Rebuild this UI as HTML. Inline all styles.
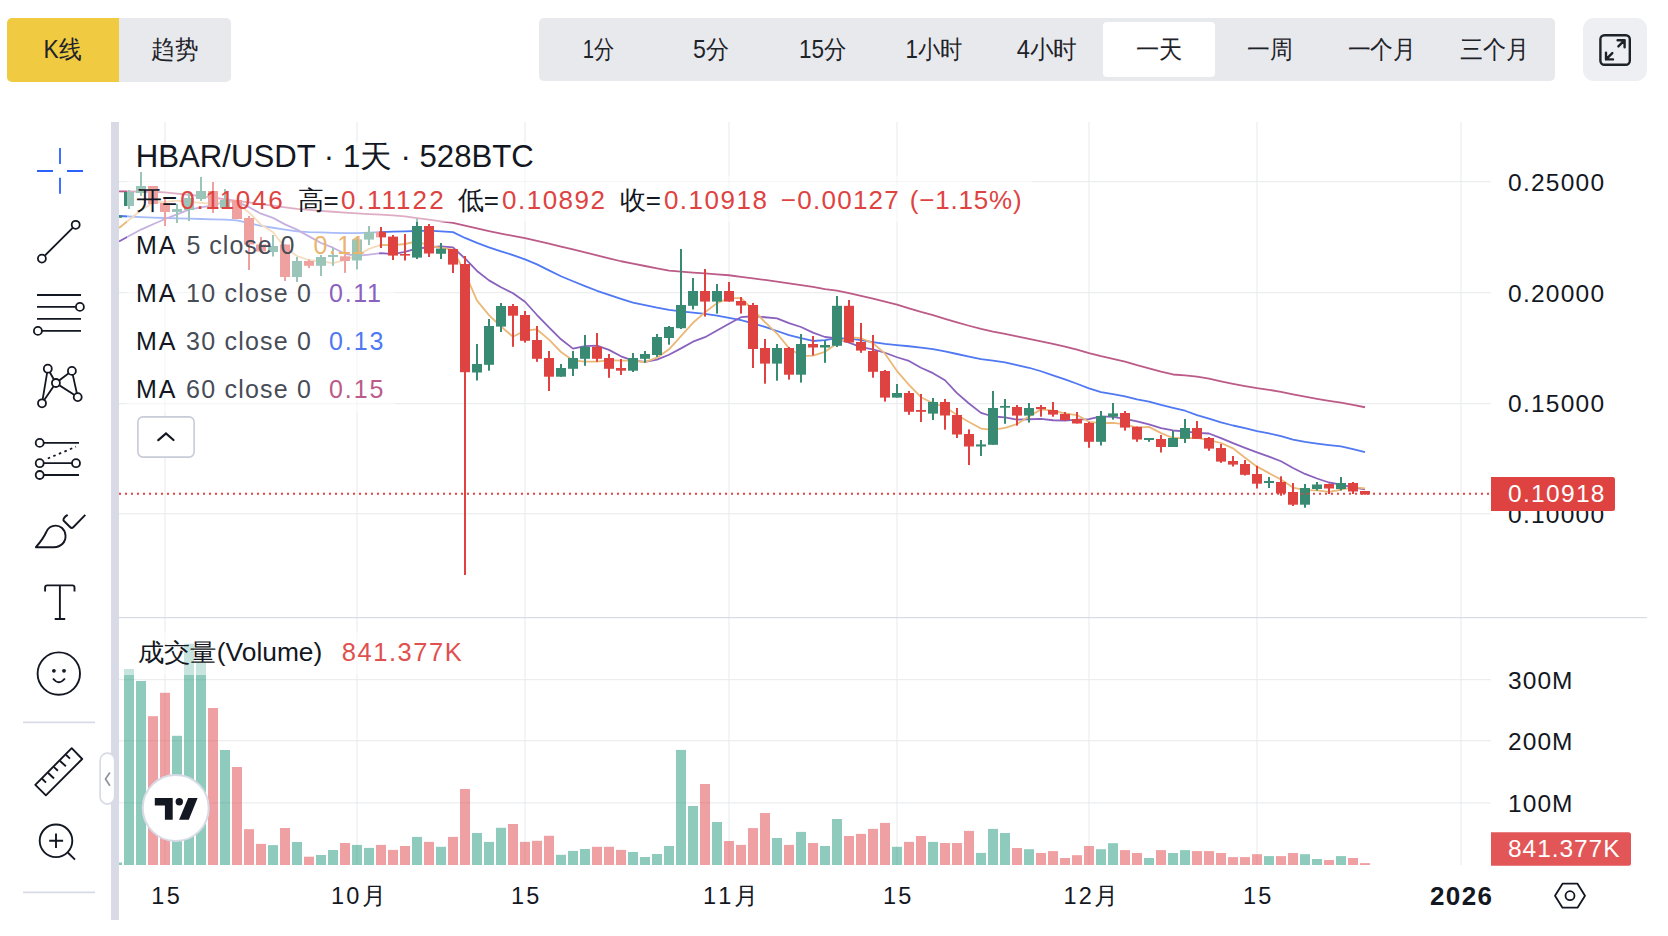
<!DOCTYPE html>
<html><head><meta charset="utf-8"><title>HBAR/USDT</title>
<style>
html,body{margin:0;padding:0;width:1668px;height:936px;overflow:hidden;background:#fff;}
body{font-family:"Liberation Sans",sans-serif;color:#1E2329;position:relative;}
.a{position:absolute;}
.btn{position:absolute;display:flex;align-items:center;justify-content:center;font-size:25px;color:#1E2329;}
svg text{font-family:"Liberation Sans",sans-serif;}
</style></head><body>
<!-- header -->
<div class="a" style="left:7px;top:18px;width:112px;height:64px;background:#F0CA41;border-radius:5px 0 0 5px;"></div>
<div class="a" style="left:119px;top:18px;width:112px;height:64px;background:#E8E9ED;border-radius:0 5px 5px 0;"></div>
<div class="a" style="left:539px;top:18px;width:1016px;height:63px;background:#E8E9ED;border-radius:5px;"></div>
<div class="a" style="left:1103px;top:22px;width:112px;height:55px;background:#fff;border-radius:4px;"></div>
<div class="a" style="left:1583px;top:18px;width:64px;height:63px;background:#EEEFF2;border-radius:11px;"></div>

<svg class="a" style="left:0;top:0" width="1668" height="936" viewBox="0 0 1668 936">
<defs><clipPath id="pc"><rect x="119" y="122" width="1372" height="495"/></clipPath><clipPath id="vc"><rect x="119" y="618" width="1372" height="247"/></clipPath></defs>
<!-- header text -->
<g font-size="25" fill="#1E2329" text-anchor="middle" lengthAdjust="spacingAndGlyphs">
<text x="62.6" y="57.7" textLength="38" lengthAdjust="spacingAndGlyphs">K线</text>
<text x="174.5" y="57.7" textLength="47" lengthAdjust="spacingAndGlyphs">趋势</text>
<text x="598.4" y="57.6" textLength="31.5" lengthAdjust="spacingAndGlyphs">1分</text>
<text x="711.1" y="57.6" textLength="36" lengthAdjust="spacingAndGlyphs">5分</text>
<text x="822.7" y="57.6" textLength="47.5" lengthAdjust="spacingAndGlyphs">15分</text>
<text x="934.1" y="57.6" textLength="57" lengthAdjust="spacingAndGlyphs">1小时</text>
<text x="1046.9" y="57.6" textLength="60.5" lengthAdjust="spacingAndGlyphs">4小时</text>
<text x="1158.9" y="57.6" textLength="46.5" lengthAdjust="spacingAndGlyphs">一天</text>
<text x="1270.2" y="57.6" textLength="45.7" lengthAdjust="spacingAndGlyphs">一周</text>
<text x="1381.9" y="57.6" textLength="68.4" lengthAdjust="spacingAndGlyphs">一个月</text>
<text x="1494.2" y="57.6" textLength="69" lengthAdjust="spacingAndGlyphs">三个月</text>
</g>
<!-- fullscreen icon -->
<g fill="none" stroke="#1E2329" stroke-width="2.4" stroke-linecap="round" stroke-linejoin="round">
<rect x="1600.4" y="35.2" width="29.4" height="29.6" rx="4"/>
<path d="M1617.6 40.2 L1624.6 40.2 L1624.6 47.2 M1624.6 40.2 L1618.4 46.4"/>
<path d="M1606 52.6 L1606 59.4 L1613 59.4 M1606 59.4 L1612.3 53.1"/>
</g>
<!-- left toolbar -->
<g stroke="#2962FF" stroke-width="1.8" fill="none">
<path d="M60 148 V164 M60 177.7 V193.7 M37 171 H53 M67 171 H83"/>
</g>
<g stroke="#131722" stroke-width="1.8" fill="#fff">
<line x1="45" y1="255.5" x2="72.9" y2="227.7"/>
<circle cx="75.7" cy="224.8" r="4"/><circle cx="41.9" cy="258.6" r="4"/>
<path d="M37 295 H81 M37 306.9 H75.8 M37 318.9 H81 M41.8 330.9 H81" fill="none"/>
<circle cx="79.9" cy="306.9" r="4"/><circle cx="37.9" cy="330.9" r="4"/>
<path d="M47.8 368.7 L42 403.3 L55.9 383 L71.9 370.9 L77.7 397.1 L55.9 383 L47.8 368.7" fill="none"/>
<circle cx="47.8" cy="368.7" r="4"/><circle cx="71.9" cy="370.9" r="4"/><circle cx="55.9" cy="383" r="4"/><circle cx="77.7" cy="397.1" r="4"/><circle cx="42" cy="403.3" r="4"/>
<path d="M43.8 442.9 H79 M43.8 463.2 H72 M43.8 475 H79" fill="none"/>
<path d="M47.8 458.5 L76 446.7" fill="none" stroke-dasharray="2.5 3.5"/>
<circle cx="39.7" cy="442.9" r="4"/><circle cx="39.7" cy="463.2" r="4"/><circle cx="76" cy="463.2" r="4"/><circle cx="39.7" cy="475" r="4"/>
</g>
<g stroke="#131722" stroke-width="1.9" fill="none" stroke-linejoin="round">
<path d="M35.9 547.2 L54 547.2 C61 547 66 542 65.5 535.5 C65 529 60 525.5 55.6 525.6 C51 525.7 48 528 46.3 532 C44 537 40 542.5 35.9 547.2 Z"/>
<path d="M67.7 514.9 C65 516.5 63 518 63.5 520.5 L70 527 C71 528 72.5 528 73.5 527 L85.3 514.9"/>
<path d="M45.1 591.5 V587.6 Q45.1 585.4 47.3 585.4 H72.3 Q74.5 585.4 74.5 587.6 V591.5 M59.9 585.4 V619 M54.7 619 H65.2"/>
<circle cx="58.8" cy="673.6" r="21.2"/>
<path d="M53 678.5 Q58.8 686 64.9 678.5"/>
<path d="M23 722.4 H95 M23 892.4 H95" stroke="#D8DBE6" stroke-width="1.6"/>
<path d="M35.3 784.8 L45.9 795.3 L82.2 759 L71.7 748.2 Z"/>
<path d="M41.9 778.5 L46 782.6 M48 772.7 L54 778.5 M53.7 766.9 L57.9 770.8 M59.8 760.8 L65.9 766.3 M65.9 754.7 L70 758.6"/>
<circle cx="56" cy="840.8" r="16.3"/>
<path d="M49.2 840.8 H63.1 M56 833.6 V848 M67.8 852.5 L75 859.6"/>
</g>
<circle cx="53.9" cy="670.8" r="1.9" fill="#131722"/><circle cx="64" cy="670.8" r="1.9" fill="#131722"/>

<!-- left divider bar -->
<rect x="111" y="122" width="8" height="798" fill="#D8DBE6"/>

<rect x="164.5" y="122" width="1" height="743" fill="#E7E9EC"/>
<rect x="356.5" y="122" width="1" height="743" fill="#E7E9EC"/>
<rect x="524.5" y="122" width="1" height="743" fill="#E7E9EC"/>
<rect x="728.5" y="122" width="1" height="743" fill="#E7E9EC"/>
<rect x="896.5" y="122" width="1" height="743" fill="#E7E9EC"/>
<rect x="1088.5" y="122" width="1" height="743" fill="#E7E9EC"/>
<rect x="1256.5" y="122" width="1" height="743" fill="#E7E9EC"/>
<rect x="1460.5" y="122" width="1" height="743" fill="#E7E9EC"/>
<rect x="119" y="181.2" width="1372" height="1" fill="#E7E9EC"/>
<rect x="119" y="292.2" width="1372" height="1" fill="#E7E9EC"/>
<rect x="119" y="403.2" width="1372" height="1" fill="#E7E9EC"/>
<rect x="119" y="513.3" width="1372" height="1" fill="#E7E9EC"/>
<rect x="119" y="679.2" width="1372" height="1" fill="#E7E9EC"/>
<rect x="119" y="740.3" width="1372" height="1" fill="#E7E9EC"/>
<rect x="119" y="802.4" width="1372" height="1" fill="#E7E9EC"/>
<rect x="119" y="617" width="1528" height="1.2" fill="#D8DBE6"/>
<g clip-path="url(#vc)"><rect x="112" y="862.5" width="10" height="2.5" fill="#1F9779" fill-opacity="0.5"/>
<rect x="124" y="669.0" width="10" height="196.0" fill="#1F9779" fill-opacity="0.5"/>
<rect x="136" y="681.0" width="10" height="184.0" fill="#1F9779" fill-opacity="0.5"/>
<rect x="148" y="716.2" width="10" height="148.8" fill="#DF4145" fill-opacity="0.5"/>
<rect x="160" y="692.8" width="10" height="172.2" fill="#DF4145" fill-opacity="0.5"/>
<rect x="172" y="735.8" width="10" height="129.2" fill="#1F9779" fill-opacity="0.5"/>
<rect x="184" y="643.7" width="10" height="221.3" fill="#1F9779" fill-opacity="0.5"/>
<rect x="196" y="662.8" width="10" height="202.2" fill="#1F9779" fill-opacity="0.5"/>
<rect x="208" y="708.0" width="10" height="157.0" fill="#DF4145" fill-opacity="0.5"/>
<rect x="220" y="750.0" width="10" height="115.0" fill="#1F9779" fill-opacity="0.5"/>
<rect x="232" y="767.0" width="10" height="98.0" fill="#DF4145" fill-opacity="0.5"/>
<rect x="244" y="829.2" width="10" height="35.8" fill="#DF4145" fill-opacity="0.5"/>
<rect x="256" y="843.9" width="10" height="21.1" fill="#DF4145" fill-opacity="0.5"/>
<rect x="268" y="845.1" width="10" height="19.9" fill="#1F9779" fill-opacity="0.5"/>
<rect x="280" y="828.0" width="10" height="37.0" fill="#DF4145" fill-opacity="0.5"/>
<rect x="292" y="842.0" width="10" height="23.0" fill="#1F9779" fill-opacity="0.5"/>
<rect x="304" y="856.7" width="10" height="8.3" fill="#DF4145" fill-opacity="0.5"/>
<rect x="316" y="855.0" width="10" height="10.0" fill="#1F9779" fill-opacity="0.5"/>
<rect x="328" y="850.0" width="10" height="15.0" fill="#1F9779" fill-opacity="0.5"/>
<rect x="340" y="843.0" width="10" height="22.0" fill="#DF4145" fill-opacity="0.5"/>
<rect x="352" y="844.9" width="10" height="20.1" fill="#1F9779" fill-opacity="0.5"/>
<rect x="364" y="847.9" width="10" height="17.1" fill="#1F9779" fill-opacity="0.5"/>
<rect x="376" y="844.9" width="10" height="20.1" fill="#DF4145" fill-opacity="0.5"/>
<rect x="388" y="849.9" width="10" height="15.1" fill="#DF4145" fill-opacity="0.5"/>
<rect x="400" y="846.0" width="10" height="19.0" fill="#DF4145" fill-opacity="0.5"/>
<rect x="412" y="836.9" width="10" height="28.1" fill="#1F9779" fill-opacity="0.5"/>
<rect x="424" y="841.9" width="10" height="23.1" fill="#DF4145" fill-opacity="0.5"/>
<rect x="436" y="846.8" width="10" height="18.2" fill="#1F9779" fill-opacity="0.5"/>
<rect x="448" y="836.9" width="10" height="28.1" fill="#DF4145" fill-opacity="0.5"/>
<rect x="460" y="789.0" width="10" height="76.0" fill="#DF4145" fill-opacity="0.5"/>
<rect x="472" y="833.0" width="10" height="32.0" fill="#1F9779" fill-opacity="0.5"/>
<rect x="484" y="841.9" width="10" height="23.1" fill="#1F9779" fill-opacity="0.5"/>
<rect x="496" y="827.8" width="10" height="37.2" fill="#1F9779" fill-opacity="0.5"/>
<rect x="508" y="824.0" width="10" height="41.0" fill="#DF4145" fill-opacity="0.5"/>
<rect x="520" y="841.9" width="10" height="23.1" fill="#DF4145" fill-opacity="0.5"/>
<rect x="532" y="840.8" width="10" height="24.2" fill="#DF4145" fill-opacity="0.5"/>
<rect x="544" y="835.8" width="10" height="29.2" fill="#DF4145" fill-opacity="0.5"/>
<rect x="556" y="854.8" width="10" height="10.2" fill="#1F9779" fill-opacity="0.5"/>
<rect x="568" y="850.9" width="10" height="14.1" fill="#1F9779" fill-opacity="0.5"/>
<rect x="580" y="849.0" width="10" height="16.0" fill="#1F9779" fill-opacity="0.5"/>
<rect x="592" y="846.8" width="10" height="18.2" fill="#DF4145" fill-opacity="0.5"/>
<rect x="604" y="846.8" width="10" height="18.2" fill="#DF4145" fill-opacity="0.5"/>
<rect x="616" y="849.9" width="10" height="15.1" fill="#DF4145" fill-opacity="0.5"/>
<rect x="628" y="852.0" width="10" height="13.0" fill="#1F9779" fill-opacity="0.5"/>
<rect x="640" y="857.0" width="10" height="8.0" fill="#1F9779" fill-opacity="0.5"/>
<rect x="652" y="854.0" width="10" height="11.0" fill="#1F9779" fill-opacity="0.5"/>
<rect x="664" y="846.0" width="10" height="19.0" fill="#1F9779" fill-opacity="0.5"/>
<rect x="676" y="749.9" width="10" height="115.1" fill="#1F9779" fill-opacity="0.5"/>
<rect x="688" y="806.0" width="10" height="59.0" fill="#1F9779" fill-opacity="0.5"/>
<rect x="700" y="784.0" width="10" height="81.0" fill="#DF4145" fill-opacity="0.5"/>
<rect x="712" y="822.0" width="10" height="43.0" fill="#1F9779" fill-opacity="0.5"/>
<rect x="724" y="841.0" width="10" height="24.0" fill="#DF4145" fill-opacity="0.5"/>
<rect x="736" y="844.9" width="10" height="20.1" fill="#DF4145" fill-opacity="0.5"/>
<rect x="748" y="828.1" width="10" height="36.9" fill="#DF4145" fill-opacity="0.5"/>
<rect x="760" y="813.0" width="10" height="52.0" fill="#DF4145" fill-opacity="0.5"/>
<rect x="772" y="838.0" width="10" height="27.0" fill="#1F9779" fill-opacity="0.5"/>
<rect x="784" y="844.9" width="10" height="20.1" fill="#DF4145" fill-opacity="0.5"/>
<rect x="796" y="831.9" width="10" height="33.1" fill="#1F9779" fill-opacity="0.5"/>
<rect x="808" y="843.0" width="10" height="22.0" fill="#DF4145" fill-opacity="0.5"/>
<rect x="820" y="846.0" width="10" height="19.0" fill="#1F9779" fill-opacity="0.5"/>
<rect x="832" y="819.0" width="10" height="46.0" fill="#1F9779" fill-opacity="0.5"/>
<rect x="844" y="836.0" width="10" height="29.0" fill="#DF4145" fill-opacity="0.5"/>
<rect x="856" y="833.9" width="10" height="31.1" fill="#DF4145" fill-opacity="0.5"/>
<rect x="868" y="828.9" width="10" height="36.1" fill="#DF4145" fill-opacity="0.5"/>
<rect x="880" y="822.9" width="10" height="42.1" fill="#DF4145" fill-opacity="0.5"/>
<rect x="892" y="846.8" width="10" height="18.2" fill="#1F9779" fill-opacity="0.5"/>
<rect x="904" y="841.9" width="10" height="23.1" fill="#DF4145" fill-opacity="0.5"/>
<rect x="916" y="836.0" width="10" height="29.0" fill="#DF4145" fill-opacity="0.5"/>
<rect x="928" y="841.9" width="10" height="23.1" fill="#1F9779" fill-opacity="0.5"/>
<rect x="940" y="843.0" width="10" height="22.0" fill="#DF4145" fill-opacity="0.5"/>
<rect x="952" y="843.0" width="10" height="22.0" fill="#DF4145" fill-opacity="0.5"/>
<rect x="964" y="830.9" width="10" height="34.1" fill="#DF4145" fill-opacity="0.5"/>
<rect x="976" y="852.9" width="10" height="12.1" fill="#1F9779" fill-opacity="0.5"/>
<rect x="988" y="828.9" width="10" height="36.1" fill="#1F9779" fill-opacity="0.5"/>
<rect x="1000" y="833.0" width="10" height="32.0" fill="#1F9779" fill-opacity="0.5"/>
<rect x="1012" y="848.0" width="10" height="17.0" fill="#DF4145" fill-opacity="0.5"/>
<rect x="1024" y="849.2" width="10" height="15.8" fill="#1F9779" fill-opacity="0.5"/>
<rect x="1036" y="853.0" width="10" height="12.0" fill="#DF4145" fill-opacity="0.5"/>
<rect x="1048" y="851.1" width="10" height="13.9" fill="#DF4145" fill-opacity="0.5"/>
<rect x="1060" y="858.0" width="10" height="7.0" fill="#DF4145" fill-opacity="0.5"/>
<rect x="1072" y="855.2" width="10" height="9.8" fill="#DF4145" fill-opacity="0.5"/>
<rect x="1084" y="846.0" width="10" height="19.0" fill="#DF4145" fill-opacity="0.5"/>
<rect x="1096" y="849.2" width="10" height="15.8" fill="#1F9779" fill-opacity="0.5"/>
<rect x="1108" y="843.2" width="10" height="21.8" fill="#1F9779" fill-opacity="0.5"/>
<rect x="1120" y="850.1" width="10" height="14.9" fill="#DF4145" fill-opacity="0.5"/>
<rect x="1132" y="853.0" width="10" height="12.0" fill="#DF4145" fill-opacity="0.5"/>
<rect x="1144" y="858.0" width="10" height="7.0" fill="#1F9779" fill-opacity="0.5"/>
<rect x="1156" y="850.1" width="10" height="14.9" fill="#DF4145" fill-opacity="0.5"/>
<rect x="1168" y="853.0" width="10" height="12.0" fill="#1F9779" fill-opacity="0.5"/>
<rect x="1180" y="850.1" width="10" height="14.9" fill="#1F9779" fill-opacity="0.5"/>
<rect x="1192" y="851.1" width="10" height="13.9" fill="#DF4145" fill-opacity="0.5"/>
<rect x="1204" y="851.1" width="10" height="13.9" fill="#DF4145" fill-opacity="0.5"/>
<rect x="1216" y="853.0" width="10" height="12.0" fill="#DF4145" fill-opacity="0.5"/>
<rect x="1228" y="857.1" width="10" height="7.9" fill="#DF4145" fill-opacity="0.5"/>
<rect x="1240" y="857.1" width="10" height="7.9" fill="#DF4145" fill-opacity="0.5"/>
<rect x="1252" y="854.2" width="10" height="10.8" fill="#DF4145" fill-opacity="0.5"/>
<rect x="1264" y="856.1" width="10" height="8.9" fill="#1F9779" fill-opacity="0.5"/>
<rect x="1276" y="856.1" width="10" height="8.9" fill="#DF4145" fill-opacity="0.5"/>
<rect x="1288" y="853.0" width="10" height="12.0" fill="#DF4145" fill-opacity="0.5"/>
<rect x="1300" y="854.2" width="10" height="10.8" fill="#1F9779" fill-opacity="0.5"/>
<rect x="1312" y="859.0" width="10" height="6.0" fill="#1F9779" fill-opacity="0.5"/>
<rect x="1324" y="860.0" width="10" height="5.0" fill="#DF4145" fill-opacity="0.5"/>
<rect x="1336" y="856.1" width="10" height="8.9" fill="#1F9779" fill-opacity="0.5"/>
<rect x="1348" y="858.0" width="10" height="7.0" fill="#DF4145" fill-opacity="0.5"/>
<rect x="1360" y="863.1" width="10" height="1.9" fill="#DF4145" fill-opacity="0.5"/></g>
<g clip-path="url(#pc)">
<polyline points="119,191.4 129,191.5 141,191.61 153,191.73 165,192.31 177,193.54 189,194.77 201,196.03 213,197.64 225,199.25 237,200.86 249,202.47 261,204.07 273,205.68 285,207.29 297,208.9 309,209.97 321,210.85 333,211.74 345,212.63 357,213.38 369,214.03 381,214.67 393,215.32 405,216.38 417,218.02 429,219.65 441,221.29 453,222.93 465,225.54 477,228.35 489,231.17 501,233.54 513,235.88 525,238.22 537,240.86 549,243.72 561,246.57 573,249.42 585,252.3 597,255.28 609,258.27 621,261.25 633,263.65 645,266.0 657,268.35 669,270.7 681,271.65 693,272.53 705,273.42 717,274.3 729,275.26 741,276.83 753,278.4 765,279.98 777,281.55 789,283.34 801,285.14 813,286.95 825,289.02 837,290.52 849,293.03 861,295.77 873,298.57 885,301.66 897,304.73 909,308.29 921,311.97 933,315.2 945,318.8 957,322.39 969,325.75 981,328.97 993,331.67 1005,333.82 1017,336.4 1029,338.76 1041,341.3 1053,343.96 1065,346.61 1077,349.68 1089,353.18 1101,356.15 1113,358.79 1125,361.65 1137,365.21 1149,368.28 1161,371.59 1173,374.48 1185,375.41 1197,376.66 1209,378.7 1221,381.29 1233,383.78 1245,386.01 1257,388.09 1269,389.83 1281,391.92 1293,394.37 1305,396.72 1317,398.81 1329,400.81 1341,402.68 1353,404.91 1365,407.25" fill="none" stroke="#BC5A88" stroke-width="1.8" stroke-linejoin="round"/>
<polyline points="119,216.0 129,216.52 141,217.14 153,217.68 165,218.02 177,218.36 189,218.69 201,219.02 213,219.3 225,219.57 237,220.28 249,223.16 261,225.95 273,227.75 285,229.55 297,231.35 309,232.07 321,232.43 333,232.79 345,233.15 357,233.03 369,232.58 381,232.12 393,231.67 405,231.28 417,231.0 429,230.72 441,231.37 453,232.1 465,237.94 477,242.89 489,247.36 501,251.36 513,255.08 525,259.37 537,264.37 549,270.32 561,276.22 573,281.22 585,286.12 597,290.78 609,294.92 621,298.89 633,302.63 645,305.19 657,307.73 669,309.77 681,311.37 693,312.57 705,313.92 717,315.64 729,317.96 741,320.23 753,323.34 765,326.94 777,331.01 789,335.05 801,338.23 813,340.99 825,340.09 837,338.15 849,338.7 861,340.18 873,342.05 885,343.95 897,345.09 909,346.26 921,347.72 933,349.18 945,351.47 957,354.0 969,356.59 981,359.04 993,360.71 1005,362.44 1017,365.06 1029,367.76 1041,371.24 1053,375.36 1065,379.31 1077,383.72 1089,388.4 1101,392.08 1113,394.23 1125,396.36 1137,399.41 1149,401.52 1161,404.95 1173,407.97 1185,410.74 1197,415.17 1209,418.71 1221,422.41 1233,425.5 1245,428.07 1257,431.1 1269,433.4 1281,436.13 1293,439.55 1305,441.97 1317,443.63 1329,445.03 1341,446.32 1353,449.1 1365,452.05" fill="none" stroke="#4F78F2" stroke-width="1.8" stroke-linejoin="round"/>
<polyline points="119,241.5 129,236.02 141,229.56 153,224.28 165,219.0 177,214.34 189,209.69 201,207.45 213,205.42 225,201.56 237,201.9 249,207.15 261,213.7 273,217.9 285,224.4 297,229.6 309,236.38 321,242.98 333,247.68 345,253.78 357,255.82 369,254.57 381,253.16 393,254.12 405,251.98 417,248.48 429,247.25 441,246.41 453,247.37 465,258.49 477,270.95 489,280.35 501,287.21 513,293.22 525,301.74 537,315.02 549,327.34 561,339.28 573,348.62 585,346.08 597,345.56 609,349.84 621,356.31 633,360.54 645,361.86 657,359.68 669,354.71 681,348.41 693,341.71 705,337.19 717,330.41 729,323.69 741,317.17 753,316.27 765,317.23 777,318.33 789,323.1 801,327.0 813,332.65 825,336.99 837,338.47 849,342.56 861,347.07 873,349.35 885,352.75 897,357.25 909,360.96 921,367.74 933,373.19 945,380.24 957,393.11 969,403.51 981,412.89 993,416.51 1005,417.35 1017,419.61 1029,419.23 1041,418.97 1053,420.23 1065,420.69 1077,419.59 1089,419.12 1101,416.28 1113,416.82 1125,418.98 1137,421.37 1149,424.37 1161,428.15 1173,430.49 1185,431.28 1197,432.81 1209,433.49 1221,438.05 1233,443.17 1245,447.89 1257,452.31 1269,456.61 1281,461.26 1293,467.93 1305,473.93 1317,478.5 1329,482.49 1341,484.63 1353,487.32 1365,489.29" fill="none" stroke="#8A62BE" stroke-width="1.8" stroke-linejoin="round"/>
<polyline points="119,228.0 129,219.94 141,210.26 153,202.69 165,201.92 177,200.6 189,201.8 201,202.8 213,203.6 225,201.2 237,203.2 249,212.5 261,224.6 273,232.2 285,247.6 297,256.0 309,260.26 321,261.36 333,263.16 345,259.96 357,255.64 369,248.88 381,244.96 393,245.08 405,244.0 417,241.32 429,245.62 441,247.86 453,249.66 465,272.98 477,300.58 489,315.08 501,326.56 513,336.78 525,330.5 537,329.46 549,339.6 561,352.0 573,360.46 585,361.66 597,361.66 609,360.08 621,360.62 633,360.62 645,362.06 657,357.7 669,349.34 681,336.2 693,322.8 705,312.32 717,303.12 729,298.04 741,298.14 753,309.74 765,322.14 777,333.54 789,348.16 801,355.86 813,355.56 825,351.84 837,343.4 849,336.96 861,338.28 873,343.14 885,353.66 897,371.1 909,384.96 921,397.2 933,403.24 945,406.82 957,415.12 969,422.06 981,428.58 993,429.78 1005,427.88 1017,424.1 1029,416.4 1041,409.36 1053,410.68 1065,413.5 1077,415.08 1089,421.84 1101,423.2 1113,422.96 1125,424.46 1137,427.66 1149,426.9 1161,433.1 1173,438.02 1185,438.1 1197,437.96 1209,440.08 1221,443.0 1233,448.32 1245,457.68 1257,466.66 1269,473.14 1281,479.52 1293,487.54 1305,490.18 1317,490.34 1329,491.84 1341,489.74 1353,487.1 1365,488.4" fill="none" stroke="#EBB878" stroke-width="1.8" stroke-linejoin="round"/>
<rect x="116" y="215.6" width="2" height="2.2" fill="#388A72"/>
<rect x="112" y="215.6" width="10" height="2.2" fill="#388A72"/>
<rect x="128" y="190.0" width="2" height="19.0" fill="#388A72"/>
<rect x="124" y="192.0" width="10" height="14.0" fill="#388A72"/>
<rect x="140" y="172.0" width="2" height="24.0" fill="#388A72"/>
<rect x="136" y="186.0" width="10" height="7.0" fill="#388A72"/>
<rect x="152" y="186.0" width="2" height="18.0" fill="#DE4341"/>
<rect x="148" y="186.0" width="10" height="18.0" fill="#DE4341"/>
<rect x="164" y="199.0" width="2" height="27.0" fill="#DE4341"/>
<rect x="160" y="203.0" width="10" height="9.0" fill="#DE4341"/>
<rect x="176" y="204.0" width="2" height="19.0" fill="#388A72"/>
<rect x="172" y="209.0" width="10" height="3.0" fill="#388A72"/>
<rect x="188" y="193.0" width="2" height="28.0" fill="#388A72"/>
<rect x="184" y="198.0" width="10" height="12.0" fill="#388A72"/>
<rect x="200" y="177.0" width="2" height="24.0" fill="#388A72"/>
<rect x="196" y="191.0" width="10" height="8.0" fill="#388A72"/>
<rect x="212" y="182.0" width="2" height="31.0" fill="#DE4341"/>
<rect x="208" y="191.0" width="10" height="17.0" fill="#DE4341"/>
<rect x="224" y="189.0" width="2" height="20.0" fill="#388A72"/>
<rect x="220" y="200.0" width="10" height="8.0" fill="#388A72"/>
<rect x="236" y="200.0" width="2" height="19.0" fill="#DE4341"/>
<rect x="232" y="200.0" width="10" height="19.0" fill="#DE4341"/>
<rect x="248" y="216.0" width="2" height="54.0" fill="#DE4341"/>
<rect x="244" y="218.0" width="10" height="26.5" fill="#DE4341"/>
<rect x="260" y="237.0" width="2" height="14.5" fill="#DE4341"/>
<rect x="256" y="244.5" width="10" height="7.0" fill="#DE4341"/>
<rect x="272" y="235.0" width="2" height="21.5" fill="#388A72"/>
<rect x="268" y="246.0" width="10" height="6.0" fill="#388A72"/>
<rect x="284" y="244.5" width="2" height="36.5" fill="#DE4341"/>
<rect x="280" y="244.5" width="10" height="32.5" fill="#DE4341"/>
<rect x="296" y="257.0" width="2" height="25.0" fill="#388A72"/>
<rect x="292" y="261.0" width="10" height="16.0" fill="#388A72"/>
<rect x="308" y="259.5" width="2" height="8.5" fill="#DE4341"/>
<rect x="304" y="261.0" width="10" height="4.8" fill="#DE4341"/>
<rect x="320" y="255.0" width="2" height="21.0" fill="#388A72"/>
<rect x="316" y="257.0" width="10" height="8.8" fill="#388A72"/>
<rect x="332" y="248.0" width="2" height="17.8" fill="#388A72"/>
<rect x="328" y="255.0" width="10" height="2.0" fill="#388A72"/>
<rect x="344" y="254.3" width="2" height="18.6" fill="#DE4341"/>
<rect x="340" y="256.3" width="10" height="4.7" fill="#DE4341"/>
<rect x="356" y="239.0" width="2" height="30.5" fill="#388A72"/>
<rect x="352" y="239.4" width="10" height="21.1" fill="#388A72"/>
<rect x="368" y="226.0" width="2" height="19.0" fill="#388A72"/>
<rect x="364" y="232.0" width="10" height="7.6" fill="#388A72"/>
<rect x="380" y="227.0" width="2" height="21.0" fill="#DE4341"/>
<rect x="376" y="231.7" width="10" height="5.7" fill="#DE4341"/>
<rect x="392" y="235.0" width="2" height="25.0" fill="#DE4341"/>
<rect x="388" y="236.6" width="10" height="19.0" fill="#DE4341"/>
<rect x="404" y="234.0" width="2" height="26.5" fill="#DE4341"/>
<rect x="400" y="254.0" width="10" height="1.6" fill="#DE4341"/>
<rect x="416" y="218.7" width="2" height="40.3" fill="#388A72"/>
<rect x="412" y="226.0" width="10" height="31.6" fill="#388A72"/>
<rect x="428" y="224.0" width="2" height="33.0" fill="#DE4341"/>
<rect x="424" y="226.0" width="10" height="27.5" fill="#DE4341"/>
<rect x="440" y="243.0" width="2" height="16.0" fill="#388A72"/>
<rect x="436" y="248.6" width="10" height="5.2" fill="#388A72"/>
<rect x="452" y="249.0" width="2" height="24.0" fill="#DE4341"/>
<rect x="448" y="249.0" width="10" height="15.6" fill="#DE4341"/>
<rect x="464" y="256.0" width="2" height="319.0" fill="#DE4341"/>
<rect x="460" y="264.0" width="10" height="108.2" fill="#DE4341"/>
<rect x="476" y="344.0" width="2" height="36.5" fill="#388A72"/>
<rect x="472" y="364.0" width="10" height="8.5" fill="#388A72"/>
<rect x="488" y="319.0" width="2" height="51.7" fill="#388A72"/>
<rect x="484" y="326.0" width="10" height="38.8" fill="#388A72"/>
<rect x="500" y="303.0" width="2" height="29.0" fill="#388A72"/>
<rect x="496" y="306.0" width="10" height="20.6" fill="#388A72"/>
<rect x="512" y="304.0" width="2" height="42.8" fill="#DE4341"/>
<rect x="508" y="306.0" width="10" height="9.7" fill="#DE4341"/>
<rect x="524" y="311.0" width="2" height="31.6" fill="#DE4341"/>
<rect x="520" y="315.0" width="10" height="25.8" fill="#DE4341"/>
<rect x="536" y="326.0" width="2" height="35.8" fill="#DE4341"/>
<rect x="532" y="340.0" width="10" height="18.8" fill="#DE4341"/>
<rect x="548" y="351.0" width="2" height="40.0" fill="#DE4341"/>
<rect x="544" y="358.0" width="10" height="18.7" fill="#DE4341"/>
<rect x="560" y="364.0" width="2" height="12.7" fill="#388A72"/>
<rect x="556" y="368.0" width="10" height="8.7" fill="#388A72"/>
<rect x="572" y="351.0" width="2" height="25.0" fill="#388A72"/>
<rect x="568" y="358.0" width="10" height="10.8" fill="#388A72"/>
<rect x="584" y="335.0" width="2" height="30.8" fill="#388A72"/>
<rect x="580" y="346.8" width="10" height="12.0" fill="#388A72"/>
<rect x="596" y="333.0" width="2" height="28.8" fill="#DE4341"/>
<rect x="592" y="346.8" width="10" height="12.0" fill="#DE4341"/>
<rect x="608" y="354.0" width="2" height="23.8" fill="#DE4341"/>
<rect x="604" y="358.0" width="10" height="10.8" fill="#DE4341"/>
<rect x="620" y="359.0" width="2" height="16.0" fill="#DE4341"/>
<rect x="616" y="368.0" width="10" height="2.7" fill="#DE4341"/>
<rect x="632" y="353.0" width="2" height="19.0" fill="#388A72"/>
<rect x="628" y="358.0" width="10" height="12.7" fill="#388A72"/>
<rect x="644" y="351.0" width="2" height="11.8" fill="#388A72"/>
<rect x="640" y="354.0" width="10" height="4.8" fill="#388A72"/>
<rect x="656" y="334.0" width="2" height="22.8" fill="#388A72"/>
<rect x="652" y="337.0" width="10" height="18.0" fill="#388A72"/>
<rect x="668" y="326.0" width="2" height="18.7" fill="#388A72"/>
<rect x="664" y="327.0" width="10" height="11.0" fill="#388A72"/>
<rect x="680" y="249.0" width="2" height="80.0" fill="#388A72"/>
<rect x="676" y="305.0" width="10" height="23.2" fill="#388A72"/>
<rect x="692" y="278.0" width="2" height="31.5" fill="#388A72"/>
<rect x="688" y="291.0" width="10" height="14.8" fill="#388A72"/>
<rect x="704" y="269.0" width="2" height="47.6" fill="#DE4341"/>
<rect x="700" y="291.0" width="10" height="10.6" fill="#DE4341"/>
<rect x="716" y="284.0" width="2" height="29.6" fill="#388A72"/>
<rect x="712" y="291.0" width="10" height="10.6" fill="#388A72"/>
<rect x="728" y="282.0" width="2" height="19.6" fill="#DE4341"/>
<rect x="724" y="291.0" width="10" height="10.6" fill="#DE4341"/>
<rect x="740" y="297.0" width="2" height="16.6" fill="#DE4341"/>
<rect x="736" y="301.0" width="10" height="4.5" fill="#DE4341"/>
<rect x="752" y="303.0" width="2" height="65.0" fill="#DE4341"/>
<rect x="748" y="305.0" width="10" height="44.0" fill="#DE4341"/>
<rect x="764" y="339.0" width="2" height="44.7" fill="#DE4341"/>
<rect x="760" y="348.0" width="10" height="15.6" fill="#DE4341"/>
<rect x="776" y="344.0" width="2" height="36.7" fill="#388A72"/>
<rect x="772" y="348.0" width="10" height="15.6" fill="#388A72"/>
<rect x="788" y="347.0" width="2" height="32.6" fill="#DE4341"/>
<rect x="784" y="348.0" width="10" height="26.7" fill="#DE4341"/>
<rect x="800" y="334.0" width="2" height="48.6" fill="#388A72"/>
<rect x="796" y="344.0" width="10" height="30.7" fill="#388A72"/>
<rect x="812" y="336.0" width="2" height="19.4" fill="#DE4341"/>
<rect x="808" y="344.0" width="10" height="3.5" fill="#DE4341"/>
<rect x="824" y="340.5" width="2" height="22.3" fill="#388A72"/>
<rect x="820" y="345.0" width="10" height="2.5" fill="#388A72"/>
<rect x="836" y="296.0" width="2" height="51.0" fill="#388A72"/>
<rect x="832" y="305.8" width="10" height="40.0" fill="#388A72"/>
<rect x="848" y="300.0" width="2" height="42.9" fill="#DE4341"/>
<rect x="844" y="305.8" width="10" height="36.7" fill="#DE4341"/>
<rect x="860" y="323.0" width="2" height="29.8" fill="#DE4341"/>
<rect x="856" y="342.0" width="10" height="8.6" fill="#DE4341"/>
<rect x="872" y="335.0" width="2" height="42.7" fill="#DE4341"/>
<rect x="868" y="351.0" width="10" height="20.8" fill="#DE4341"/>
<rect x="884" y="370.0" width="2" height="31.6" fill="#DE4341"/>
<rect x="880" y="371.0" width="10" height="26.6" fill="#DE4341"/>
<rect x="896" y="384.0" width="2" height="13.6" fill="#388A72"/>
<rect x="892" y="393.0" width="10" height="4.6" fill="#388A72"/>
<rect x="908" y="391.0" width="2" height="23.8" fill="#DE4341"/>
<rect x="904" y="393.0" width="10" height="18.8" fill="#DE4341"/>
<rect x="920" y="394.0" width="2" height="28.0" fill="#DE4341"/>
<rect x="916" y="410.0" width="10" height="1.8" fill="#DE4341"/>
<rect x="932" y="398.0" width="2" height="22.0" fill="#388A72"/>
<rect x="928" y="402.0" width="10" height="11.6" fill="#388A72"/>
<rect x="944" y="399.0" width="2" height="30.7" fill="#DE4341"/>
<rect x="940" y="402.0" width="10" height="13.5" fill="#DE4341"/>
<rect x="956" y="408.0" width="2" height="30.0" fill="#DE4341"/>
<rect x="952" y="415.0" width="10" height="19.5" fill="#DE4341"/>
<rect x="968" y="429.4" width="2" height="35.6" fill="#DE4341"/>
<rect x="964" y="434.0" width="10" height="12.5" fill="#DE4341"/>
<rect x="980" y="440.0" width="2" height="16.0" fill="#388A72"/>
<rect x="976" y="444.4" width="10" height="2.1" fill="#388A72"/>
<rect x="992" y="391.0" width="2" height="53.8" fill="#388A72"/>
<rect x="988" y="408.0" width="10" height="36.8" fill="#388A72"/>
<rect x="1004" y="399.0" width="2" height="24.8" fill="#388A72"/>
<rect x="1000" y="406.0" width="10" height="1.7" fill="#388A72"/>
<rect x="1016" y="405.0" width="2" height="20.6" fill="#DE4341"/>
<rect x="1012" y="407.0" width="10" height="8.6" fill="#DE4341"/>
<rect x="1028" y="403.0" width="2" height="19.6" fill="#388A72"/>
<rect x="1024" y="408.0" width="10" height="7.6" fill="#388A72"/>
<rect x="1040" y="405.0" width="2" height="11.7" fill="#DE4341"/>
<rect x="1036" y="407.0" width="10" height="2.2" fill="#DE4341"/>
<rect x="1052" y="402.0" width="2" height="14.7" fill="#DE4341"/>
<rect x="1048" y="410.0" width="10" height="4.6" fill="#DE4341"/>
<rect x="1064" y="412.0" width="2" height="8.8" fill="#DE4341"/>
<rect x="1060" y="414.0" width="10" height="6.1" fill="#DE4341"/>
<rect x="1076" y="412.0" width="2" height="11.5" fill="#DE4341"/>
<rect x="1072" y="419.0" width="10" height="4.5" fill="#DE4341"/>
<rect x="1088" y="422.0" width="2" height="25.8" fill="#DE4341"/>
<rect x="1084" y="423.0" width="10" height="18.8" fill="#DE4341"/>
<rect x="1100" y="411.0" width="2" height="34.5" fill="#388A72"/>
<rect x="1096" y="416.0" width="10" height="25.8" fill="#388A72"/>
<rect x="1112" y="403.0" width="2" height="16.6" fill="#388A72"/>
<rect x="1108" y="413.4" width="10" height="3.3" fill="#388A72"/>
<rect x="1124" y="411.0" width="2" height="19.6" fill="#DE4341"/>
<rect x="1120" y="413.0" width="10" height="14.6" fill="#DE4341"/>
<rect x="1136" y="426.5" width="2" height="15.3" fill="#DE4341"/>
<rect x="1132" y="426.8" width="10" height="12.7" fill="#DE4341"/>
<rect x="1148" y="438.0" width="2" height="3.8" fill="#388A72"/>
<rect x="1144" y="438.0" width="10" height="2.0" fill="#388A72"/>
<rect x="1160" y="435.0" width="2" height="17.5" fill="#DE4341"/>
<rect x="1156" y="439.0" width="10" height="8.0" fill="#DE4341"/>
<rect x="1172" y="431.0" width="2" height="16.0" fill="#388A72"/>
<rect x="1168" y="438.0" width="10" height="9.0" fill="#388A72"/>
<rect x="1184" y="419.0" width="2" height="24.0" fill="#388A72"/>
<rect x="1180" y="428.0" width="10" height="10.8" fill="#388A72"/>
<rect x="1196" y="421.0" width="2" height="17.8" fill="#DE4341"/>
<rect x="1192" y="428.0" width="10" height="10.8" fill="#DE4341"/>
<rect x="1208" y="437.0" width="2" height="13.8" fill="#DE4341"/>
<rect x="1204" y="438.0" width="10" height="10.6" fill="#DE4341"/>
<rect x="1220" y="444.0" width="2" height="18.8" fill="#DE4341"/>
<rect x="1216" y="448.0" width="10" height="13.6" fill="#DE4341"/>
<rect x="1232" y="456.0" width="2" height="10.5" fill="#DE4341"/>
<rect x="1228" y="461.0" width="10" height="3.6" fill="#DE4341"/>
<rect x="1244" y="460.0" width="2" height="15.5" fill="#DE4341"/>
<rect x="1240" y="464.0" width="10" height="10.8" fill="#DE4341"/>
<rect x="1256" y="465.8" width="2" height="22.7" fill="#DE4341"/>
<rect x="1252" y="474.0" width="10" height="9.7" fill="#DE4341"/>
<rect x="1268" y="477.0" width="2" height="11.0" fill="#388A72"/>
<rect x="1264" y="481.0" width="10" height="2.0" fill="#388A72"/>
<rect x="1280" y="476.3" width="2" height="19.4" fill="#DE4341"/>
<rect x="1276" y="482.0" width="10" height="11.5" fill="#DE4341"/>
<rect x="1292" y="483.0" width="2" height="23.0" fill="#DE4341"/>
<rect x="1288" y="492.0" width="10" height="12.7" fill="#DE4341"/>
<rect x="1304" y="484.0" width="2" height="23.7" fill="#388A72"/>
<rect x="1300" y="488.0" width="10" height="16.7" fill="#388A72"/>
<rect x="1316" y="482.0" width="2" height="8.5" fill="#388A72"/>
<rect x="1312" y="484.5" width="10" height="4.5" fill="#388A72"/>
<rect x="1328" y="483.7" width="2" height="10.3" fill="#DE4341"/>
<rect x="1324" y="484.0" width="10" height="4.5" fill="#DE4341"/>
<rect x="1340" y="477.0" width="2" height="13.5" fill="#388A72"/>
<rect x="1336" y="483.0" width="10" height="6.0" fill="#388A72"/>
<rect x="1352" y="482.0" width="2" height="12.0" fill="#DE4341"/>
<rect x="1348" y="483.0" width="10" height="8.5" fill="#DE4341"/>
<rect x="1364" y="491.0" width="2" height="3.5" fill="#DE4341"/>
<rect x="1360" y="491.0" width="10" height="3.5" fill="#DE4341"/>
</g>
<line x1="119" y1="493.8" x2="1490" y2="493.8" stroke="#DE4341" stroke-width="2" stroke-dasharray="2 4"/>

<g fill="#fff" fill-opacity="0.5">
<rect x="127" y="142" width="420" height="34"/>
<rect x="127" y="176" width="905" height="46"/>
<rect x="127" y="222" width="252" height="47"/>
<rect x="127" y="269" width="268" height="48"/>
<rect x="127" y="317" width="268" height="48"/>
<rect x="127" y="365" width="268" height="47"/>
<rect x="124" y="632" width="350" height="43"/>
</g>

<!-- legend text -->
<text x="135.8" y="166.9" font-size="30.5" fill="#131722" textLength="398" lengthAdjust="spacingAndGlyphs">HBAR/USDT · 1天 · 528BTC</text>
<g font-size="26" fill="#131722">
<text x="136" y="208.6">开=</text>
<text x="180.2" y="208.6" fill="#DE4341" textLength="102.5">0.11046</text>
<text x="297.5" y="208.6">高=</text>
<text x="341.1" y="208.6" fill="#DE4341" textLength="102.5">0.11122</text>
<text x="457.7" y="208.6">低=</text>
<text x="502" y="208.6" fill="#DE4341" textLength="103">0.10892</text>
<text x="619.8" y="208.6">收=</text>
<text x="663.9" y="208.6" fill="#DE4341" textLength="103">0.10918</text>
<text x="780.8" y="208.6" fill="#DE4341" textLength="118">−0.00127</text>
<text x="909.7" y="208.6" fill="#DE4341" textLength="112">(−1.15%)</text>
</g>
<g font-size="25" fill="#131722">
<text x="136" y="253.8" textLength="39.5">MA</text>
<text x="186.5" y="253.8" fill="#474D57" textLength="108">5 close 0</text>
<text x="313.4" y="253.8" fill="#EBB46F" textLength="51.5">0.11</text>
<text x="136" y="301.9" textLength="39.5">MA</text>
<text x="186" y="301.9" fill="#474D57" textLength="125">10 close 0</text>
<text x="329" y="301.9" fill="#8A62BE" textLength="52">0.11</text>
<text x="136" y="350.2" textLength="39.5">MA</text>
<text x="186" y="350.2" fill="#474D57" textLength="125">30 close 0</text>
<text x="329" y="350.2" fill="#4F78F2" textLength="54.5">0.13</text>
<text x="136" y="398.4" textLength="39.5">MA</text>
<text x="186" y="398.4" fill="#474D57" textLength="125">60 close 0</text>
<text x="329" y="398.4" fill="#BC5A88" textLength="54.5">0.15</text>
</g>
<rect x="137.9" y="416.9" width="56.2" height="40.2" rx="5" fill="#fff" stroke="#C8CBD8" stroke-width="1.6"/>
<path d="M158.3 440.2 L166 433.5 L173.5 440" fill="none" stroke="#131722" stroke-width="2.2" stroke-linecap="round"/>

<text x="137.8" y="660.6" font-size="25" fill="#131722" textLength="184.5" lengthAdjust="spacingAndGlyphs">成交量(Volume)</text>
<text x="341.8" y="660.6" font-size="25.5" fill="#E0504F" textLength="120">841.377K</text>

<!-- price axis -->
<g font-size="24.5" fill="#131722">
<text x="1508.1" y="191.3" textLength="96">0.25000</text>
<text x="1508.1" y="301.7" textLength="96">0.20000</text>
<text x="1508.1" y="412.1" textLength="96">0.15000</text>
<text x="1508.1" y="522.5" textLength="96">0.10000</text>
<text x="1508" y="688.7" textLength="64.5">300M</text>
<text x="1508" y="749.8" textLength="64.5">200M</text>
<text x="1508" y="811.9" textLength="64.5">100M</text>
</g>
<path d="M1491 477 H1612.5 Q1615 477 1615 479.5 V508.5 Q1615 511 1612.5 511 H1491 Z" fill="#DE4341"/>
<text x="1508" y="501.7" font-size="24.5" fill="#fff" textLength="96.5">0.10918</text>
<path d="M1491 832.3 H1628.5 Q1631 832.3 1631 834.8 V863.2 Q1631 865.7 1628.5 865.7 H1491 Z" fill="#E25658"/>
<text x="1508" y="856.7" font-size="24.5" fill="#fff" textLength="111.5">841.377K</text>

<!-- time axis -->
<g font-size="23.5" fill="#131722" text-anchor="middle">
<text x="165.5" y="904.3" textLength="28.5">15</text>
<text x="330.9" y="904.3" text-anchor="start" textLength="28.5">10</text><text x="361.9" y="904.3" text-anchor="start">月</text>
<text x="525.2" y="904.3" textLength="28.5">15</text>
<text x="702.9" y="904.3" text-anchor="start" textLength="28.5">11</text><text x="733.9" y="904.3" text-anchor="start">月</text>
<text x="897.2" y="904.3" textLength="28.5">15</text>
<text x="1063.4" y="904.3" text-anchor="start" textLength="28.5">12</text><text x="1094.4" y="904.3" text-anchor="start">月</text>
<text x="1257.2" y="904.3" textLength="28.5">15</text>
<text x="1461" y="905" font-weight="bold" font-size="26" textLength="62">2026</text>
</g>
<path d="M1562.5 883.7 L1577.5 883.7 L1585 895.7 L1577.5 907.7 L1562.5 907.7 L1555 895.7 Z" fill="none" stroke="#131722" stroke-width="1.8" stroke-linejoin="round"/>
<circle cx="1570" cy="895.7" r="4.5" fill="none" stroke="#131722" stroke-width="1.8"/>

<!-- collapse handle -->
<rect x="100.1" y="753.1" width="14.6" height="51" rx="7.3" fill="#fff" stroke="#D8DBE6" stroke-width="1.7"/>
<path d="M109.9 772.6 L105.5 779 L109.9 785.8" fill="none" stroke="#8E92A0" stroke-width="1.7"/>

<!-- TV logo -->
<circle cx="175.7" cy="808" r="33" fill="#fff" stroke="#D8DBE6" stroke-width="2"/>
<path d="M154.8 798 H172.7 V819.7 H164.9 V805.5 H154.8 Z" fill="#131722"/>
<circle cx="179.3" cy="801.8" r="3.7" fill="#131722"/>
<path d="M188.2 798 H197.6 L188.8 819.7 H179.1 Z" fill="#131722"/>
</svg>
</body></html>
